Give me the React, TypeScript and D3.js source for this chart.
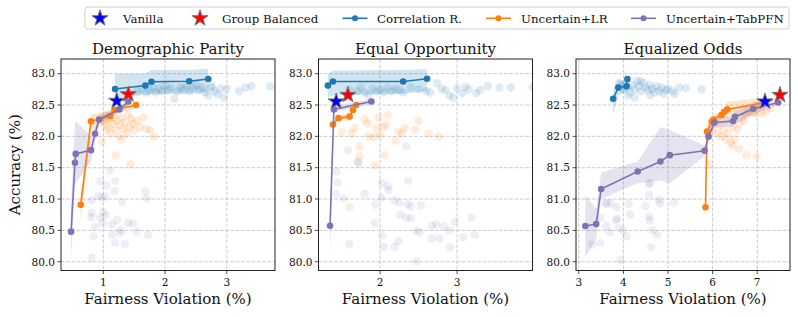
import React, { useEffect } from "react";
import * as d3 from "d3";

// each row: fairness violation, accuracy, band lower, band upper
type Row = [number, number, number, number];
type Pt = [number, number];

const panelTitles = ["Demographic Parity", "Equal Opportunity", "Equalized Odds"];
const yTicks = [80.0, 80.5, 81.0, 81.5, 82.0, 82.5, 83.0];
const xTicks = [[1, 2, 3], [2, 3], [3, 4, 5, 6, 7]];
const xDomains: Pt[] = [[0.314, 3.78], [1.2, 3.98], [2.937, 7.735]];
const yDomain: Pt = [79.86, 83.234];

const seriesNames = ["Correlation R.", "Uncertain+LR", "Uncertain+TabPFN"];
const seriesColors = ["#1f77b4", "#ff7f0e", "#8172b3"];

// Demographic Parity
const dpCorr: Row[] = [
  [1.19, 82.755, 82.62, 83.0], [1.68, 82.81, 82.66, 83.0], [1.78, 82.87, 82.67, 83.06],
  [2.39, 82.88, 82.68, 83.06], [2.70, 82.915, 82.7, 83.08],
];
const dpLr: Row[] = [
  [0.634, 80.91, 80.65, 81.1], [0.80, 82.24, 82.1, 82.35], [1.11, 82.325, 82.25, 82.4],
  [1.18, 82.42, 82.35, 82.48], [1.53, 82.50, 82.45, 82.55],
];
const dpPfn: Row[] = [
  [0.477, 80.48, 80.02, 80.9], [0.54, 81.58, 81.2, 82.2], [0.553, 81.72, 81.25, 82.25],
  [0.80, 81.78, 81.6, 82.0], [0.866, 82.04, 81.9, 82.15], [0.93, 82.27, 82.2, 82.33],
  [1.26, 82.43, 82.38, 82.48], [1.405, 82.555, 82.5, 82.6],
];
const dpCorrCloud: Pt[] = [
  [1.45, 82.68], [1.55, 82.72], [1.62, 82.75], [1.7, 82.7], [1.75, 82.74], [1.8, 82.78], [1.85, 82.7],
  [1.9, 82.76], [1.95, 82.72], [2.0, 82.8], [2.05, 82.74], [2.1, 82.77], [2.15, 82.6], [2.2, 82.72],
  [2.25, 82.78], [2.3, 82.75], [2.35, 82.8], [2.4, 82.72], [2.45, 82.77], [2.5, 82.82], [2.55, 82.74],
  [2.6, 82.78], [2.65, 82.7], [2.7, 82.65], [2.75, 82.8], [2.8, 82.72], [2.85, 82.67], [2.9, 82.76],
  [2.95, 82.62], [3.0, 82.76], [3.2, 82.72], [3.3, 82.78], [3.4, 82.8], [3.7, 82.8], [2.75, 82.78],
];
const dpLrCloud: Pt[] = [
  [0.95, 82.3], [1.0, 82.25], [1.02, 82.2], [1.05, 82.35], [1.08, 82.15], [1.1, 82.28], [1.12, 82.05],
  [1.15, 82.2], [1.18, 82.3], [1.2, 82.1], [1.22, 82.25], [1.25, 82.0], [1.27, 82.18], [1.3, 82.3],
  [1.32, 82.12], [1.35, 82.22], [1.38, 82.05], [1.4, 82.35], [1.42, 82.15], [1.45, 82.28], [1.48, 82.2],
  [1.5, 82.1], [1.55, 82.25], [1.6, 82.15], [1.65, 82.3], [1.7, 82.12], [1.75, 82.1], [1.82, 82.0],
  [1.2, 81.7], [1.44, 81.55], [0.98, 81.92], [1.05, 82.1], [1.3, 81.95],
];
const dpPfnCloud: Pt[] = [
  [0.95, 81.28], [1.11, 81.46], [1.19, 81.29], [1.18, 81.12], [0.92, 81.05], [0.81, 80.98], [0.97, 81.02],
  [1.03, 81.04], [1.68, 81.12], [1.70, 81.01], [0.81, 80.78], [0.80, 80.71], [1.0, 80.8], [1.03, 80.74],
  [0.865, 80.56], [0.84, 80.40], [0.99, 80.61], [1.14, 80.6], [1.22, 80.67], [1.40, 80.62], [1.48, 80.61],
  [1.14, 80.43], [1.27, 80.46], [1.28, 80.51], [1.19, 80.30], [1.35, 80.28], [1.72, 80.43], [0.81, 80.07],
  [1.05, 81.22], [1.3, 80.95], [1.54, 80.48], [0.95, 80.7],
];

// Equal Opportunity
const eoCorr: Row[] = [
  [1.322, 82.81, 82.62, 83.0], [1.387, 82.875, 82.65, 83.05], [2.30, 82.875, 82.68, 83.06],
  [2.61, 82.92, 82.72, 83.07],
];
const eoLr: Row[] = [
  [1.387, 82.19, 82.15, 82.25], [1.46, 82.29, 82.25, 82.33], [1.605, 82.315, 82.28, 82.36],
  [1.648, 82.42, 82.38, 82.46], [1.69, 82.50, 82.46, 82.54],
];
const eoPfn: Row[] = [
  [1.35, 80.575, 80.08, 81.0], [1.40, 82.43, 82.38, 82.48], [1.887, 82.555, 82.52, 82.6],
];
const eoCorrCloud: Pt[] = [
  [1.6, 82.75], [1.7, 82.72], [1.75, 82.78], [1.8, 82.7], [1.9, 82.76], [1.95, 82.72], [2.0, 82.75],
  [2.05, 82.7], [2.1, 82.78], [2.15, 82.72], [2.2, 82.76], [2.25, 82.74], [2.3, 82.7], [2.4, 82.78],
  [2.5, 82.75], [2.6, 82.72], [2.74, 82.85], [2.8, 82.76], [2.85, 82.74], [2.9, 82.65], [3.0, 82.77],
  [3.07, 82.69], [3.11, 82.79], [3.15, 82.75], [3.25, 82.69], [3.3, 82.74], [3.4, 82.8], [3.55, 82.78],
  [3.7, 82.78], [3.98, 82.79], [2.95, 82.62], [2.65, 82.7], [1.85, 82.65],
];
const eoLrCloud: Pt[] = [
  [1.50, 82.07], [1.63, 82.05], [1.84, 82.21], [1.95, 82.13], [2.0, 82.02], [2.08, 82.18], [2.235, 82.08],
  [2.32, 82.13], [2.45, 82.10], [2.63, 82.05], [2.76, 82.0], [2.50, 82.25], [1.92, 81.99], [2.2, 81.93],
  [1.73, 81.84], [1.73, 81.68], [1.93, 81.54], [1.605, 80.87], [2.06, 81.7], [2.10, 82.34], [1.98, 82.3],
  [1.85, 82.0], [1.67, 82.13], [1.56, 82.3], [1.8, 82.27], [2.28, 82.05], [2.04, 82.15],
];
const eoPfnCloud: Pt[] = [
  [1.58, 81.78], [1.71, 81.60], [1.72, 81.57], [2.34, 81.84], [1.43, 81.44], [1.45, 81.26], [1.43, 81.08],
  [1.53, 81.01], [1.80, 81.08], [2.02, 81.26], [2.10, 81.2], [2.11, 81.14], [2.365, 81.29], [1.94, 80.91],
  [2.02, 81.02], [2.19, 80.98], [2.25, 80.94], [2.36, 80.92], [2.40, 80.88], [2.53, 80.9], [2.26, 80.75],
  [2.34, 80.70], [2.40, 80.69], [1.93, 80.62], [2.67, 80.57], [2.73, 80.6], [2.83, 80.57], [2.97, 80.64],
  [3.19, 80.7], [2.47, 80.5], [2.51, 80.47], [2.67, 80.37], [2.77, 80.37], [2.89, 80.5], [2.91, 80.23],
  [3.08, 80.39], [3.23, 80.43], [2.03, 80.42], [2.24, 80.33], [2.19, 80.24], [2.05, 80.24], [1.6, 80.28],
  [2.47, 80.01],
];

// Equalized Odds
const eodCorr: Row[] = [
  [3.77, 82.60, 82.35, 82.75], [3.886, 82.78, 82.65, 82.9], [4.07, 82.80, 82.72, 82.88],
  [4.09, 82.915, 82.85, 82.97],
];
const eodLr: Row[] = [
  [5.84, 80.87, 80.5, 81.1], [5.875, 82.075, 81.95, 82.15], [5.98, 82.235, 82.15, 82.3],
  [6.02, 82.27, 82.2, 82.33], [6.20, 82.34, 82.28, 82.4], [6.26, 82.39, 82.33, 82.45],
  [6.33, 82.43, 82.35, 82.55], [7.17, 82.54, 82.3, 82.62],
];
const eodPfn: Row[] = [
  [3.146, 80.57, 80.08, 81.06], [3.39, 80.60, 80.35, 80.85], [3.50, 81.16, 81.0, 81.42],
  [4.32, 81.44, 81.25, 81.6], [4.83, 81.60, 81.3, 82.15], [5.04, 81.70, 81.25, 82.1],
  [5.82, 81.77, 81.68, 81.85], [5.91, 81.995, 81.95, 82.05], [6.04, 82.22, 82.15, 82.28],
  [6.46, 82.245, 82.15, 82.35], [6.50, 82.31, 82.2, 82.4], [6.91, 82.44, 82.35, 82.55],
  [7.47, 82.54, 82.5, 82.6],
];
const eodCorrCloud: Pt[] = [
  [3.9, 82.85], [3.95, 82.8], [4.0, 82.75], [4.05, 82.85], [4.1, 82.78], [4.15, 82.7], [4.2, 82.82],
  [4.25, 82.75], [4.3, 82.88], [4.35, 82.8], [4.4, 82.72], [4.45, 82.85], [4.5, 82.78], [4.55, 82.74],
  [4.6, 82.82], [4.65, 82.76], [4.7, 82.7], [4.75, 82.8], [4.8, 82.72], [4.85, 82.78], [4.9, 82.68],
  [4.95, 82.74], [5.0, 82.76], [5.1, 82.72], [5.15, 82.68], [5.25, 82.78], [5.4, 82.77], [5.75, 82.75],
  [4.38, 82.88], [4.1, 82.65], [4.6, 82.66], [4.25, 82.62],
];
const eodLrCloud: Pt[] = [
  [5.95, 82.15], [6.0, 82.1], [6.05, 82.2], [6.1, 82.05], [6.15, 82.18], [6.2, 82.0], [6.25, 82.1],
  [6.3, 81.95], [6.35, 82.05], [6.4, 81.9], [6.45, 81.85], [6.5, 81.95], [6.55, 82.1], [6.6, 82.2],
  [6.65, 82.3], [6.7, 82.25], [6.75, 82.35], [6.8, 82.4], [6.9, 82.38], [7.0, 82.45], [7.1, 82.5],
  [7.2, 82.4], [7.3, 82.45], [6.76, 81.7], [6.99, 81.68], [5.93, 81.55], [6.3, 82.25], [6.12, 82.3],
  [6.45, 82.15], [6.6, 81.8],
];
const eodPfnCloud: Pt[] = [
  [4.57, 81.25], [4.58, 81.07], [4.79, 80.99], [4.49, 80.89], [5.13, 80.94], [4.15, 80.75], [3.86, 80.69],
  [3.83, 80.66], [3.63, 80.93], [3.72, 80.93], [3.85, 80.87], [4.12, 80.92], [4.58, 80.72], [4.59, 80.66],
  [3.61, 80.57], [3.9, 80.54], [4.0, 80.5], [4.07, 80.4], [4.66, 80.5], [4.75, 80.43], [4.62, 80.23],
  [3.93, 80.03], [3.48, 80.3], [3.3, 80.27], [3.49, 80.7], [3.7, 80.47], [4.82, 80.93], [4.6, 81.25],
  [3.59, 80.93],
];

const vanillaPts: Pt[] = [[1.217, 82.565], [1.43, 82.555], [7.175, 82.555]];
const balancedPts: Pt[] = [[1.405, 82.67], [1.583, 82.66], [7.51, 82.66]];

const lines: Row[][][] = [
  [dpCorr, dpLr, dpPfn],
  [eoCorr, eoLr, eoPfn],
  [eodCorr, eodLr, eodPfn],
];
const clouds: Pt[][][] = [
  [dpCorrCloud, dpLrCloud, dpPfnCloud],
  [eoCorrCloud, eoLrCloud, eoPfnCloud],
  [eodCorrCloud, eodLrCloud, eodPfnCloud],
];

const W = 798, H = 317;
const panelLeft = [61, 318.5, 576];
const panelW = 214;
const top = 59, bottom = 270.5;
const font = "'DejaVu Serif', serif";

const starPath = d3.symbol().type(d3.symbolStar).size(8.5 * 8.5 / 0.8908130915292852)()!;

function Panel({ i }: { i: number }) {
  const x = d3.scaleLinear().domain(xDomains[i]).range([panelLeft[i], panelLeft[i] + panelW]);
  const y = d3.scaleLinear().domain(yDomain).range([bottom, top]);
  const line = d3.line<Row>().x(d => x(d[0])).y(d => y(d[1]));
  const area = d3.area<Row>().x(d => x(d[0])).y0(d => y(d[2])).y1(d => y(d[3]));
  const clipId = `clip${i}`;
  const x0 = panelLeft[i], x1 = panelLeft[i] + panelW;
  return (
    <g>
      <defs>
        <clipPath id={clipId}>
          <rect x={x0} y={top} width={panelW} height={bottom - top} />
        </clipPath>
      </defs>
      {/* grid */}
      <g stroke="#b0b0b0" strokeWidth={0.8} strokeDasharray="3.7,1.6" opacity={0.8}>
        {xTicks[i].map(t => <line key={"gx" + t} x1={x(t)} x2={x(t)} y1={top} y2={bottom} />)}
        {yTicks.map(t => <line key={"gy" + t} x1={x0} x2={x1} y1={y(t)} y2={y(t)} />)}
      </g>
      <g clipPath={`url(#${clipId})`}>
        {clouds[i].map((pts, s) => (
          <g key={"c" + s} fill={seriesColors[s]} fillOpacity={s === 2 ? 0.13 : 0.15}>
            {pts.map((p, k) => <circle key={k} cx={x(p[0])} cy={y(p[1])} r={4.2} />)}
          </g>
        ))}
        {lines[i].map((rows, s) => (
          <path key={"a" + s} d={area(rows)!} fill={seriesColors[s]} fillOpacity={0.2} />
        ))}
        {lines[i].map((rows, s) => (
          <g key={"l" + s}>
            <path d={line(rows)!} fill="none" stroke={seriesColors[s]} strokeWidth={1.6} />
            {rows.map((r, k) => (
              <circle key={k} cx={x(r[0])} cy={y(r[1])} r={3.3} fill={seriesColors[s]} />
            ))}
          </g>
        ))}
        <path d={starPath} transform={`translate(${x(vanillaPts[i][0])},${y(vanillaPts[i][1])})`}
          fill="#0000ff" stroke="#777" strokeWidth={1} />
        <path d={starPath} transform={`translate(${x(balancedPts[i][0])},${y(balancedPts[i][1])})`}
          fill="#ff0000" stroke="#777" strokeWidth={1} />
      </g>
      {/* spines */}
      <rect x={x0} y={top} width={panelW} height={bottom - top} fill="none" stroke="#222" strokeWidth={1} />
      {/* ticks */}
      <g stroke="#222" strokeWidth={0.8}>
        {xTicks[i].map(t => <line key={"tx" + t} x1={x(t)} x2={x(t)} y1={bottom} y2={bottom + 3.5} />)}
        {yTicks.map(t => <line key={"ty" + t} x1={x0 - 3.5} x2={x0} y1={y(t)} y2={y(t)} />)}
      </g>
      <g fontFamily={font} fontSize={10.5} fill="#111">
        {xTicks[i].map(t => (
          <text key={"lx" + t} x={x(t)} y={bottom + 15} textAnchor="middle">{t}</text>
        ))}
        {yTicks.map(t => (
          <text key={"ly" + t} x={x0 - 6} y={y(t)} dy="0.36em" textAnchor="end">{t.toFixed(1)}</text>
        ))}
      </g>
      <text x={(x0 + x1) / 2} y={53.5} textAnchor="middle" fontFamily={font} fontSize={15} fill="#111">
        {panelTitles[i]}
      </text>
      <text x={(x0 + x1) / 2} y={304} textAnchor="middle" fontFamily={font} fontSize={15} fill="#111">
        Fairness Violation (%)
      </text>
    </g>
  );
}

function Legend() {
  const cy = 18.3;
  const items = [
    { kind: "star", color: "#0000ff", label: "Vanilla", mx: 100, tx: 123 },
    { kind: "star", color: "#ff0000", label: "Group Balanced", mx: 200, tx: 222 },
    { kind: "line", color: seriesColors[0], label: seriesNames[0], mx: 355, tx: 377 },
    { kind: "line", color: seriesColors[1], label: seriesNames[1], mx: 498.5, tx: 521 },
    { kind: "line", color: seriesColors[2], label: seriesNames[2], mx: 643.5, tx: 666 },
  ];
  return (
    <g>
      <rect x={85} y={7} width={704} height={22} rx={3} fill="#fff" stroke="#d0d0d0" strokeWidth={1} />
      {items.map(it => (
        <g key={it.label}>
          {it.kind === "star" ? (
            <path d={starPath} transform={`translate(${it.mx},${cy})`} fill={it.color} stroke="#777" strokeWidth={1} />
          ) : (
            <g>
              <line x1={it.mx - 12.5} x2={it.mx + 12.5} y1={cy} y2={cy} stroke={it.color} strokeWidth={1.6} />
              <circle cx={it.mx} cy={cy} r={3} fill={it.color} />
            </g>
          )}
          <text x={it.tx} y={cy} dy="0.36em" fontFamily={font} fontSize={11.8} fill="#111">{it.label}</text>
        </g>
      ))}
    </g>
  );
}

export default function App() {
  useEffect(() => {
    document.body.style.margin = "0";
  }, []);
  return (
    <svg width={W} height={H} style={{ position: "absolute", left: 0, top: 0, background: "#fff" }}>
      <rect width={W} height={H} fill="#fff" />
      {[0, 1, 2].map(i => <Panel key={i} i={i} />)}
      <text transform={`translate(20,${(top + bottom) / 2}) rotate(-90)`} textAnchor="middle"
        fontFamily={font} fontSize={15} fill="#111">Accuracy (%)</text>
      <Legend />
    </svg>
  );
}
